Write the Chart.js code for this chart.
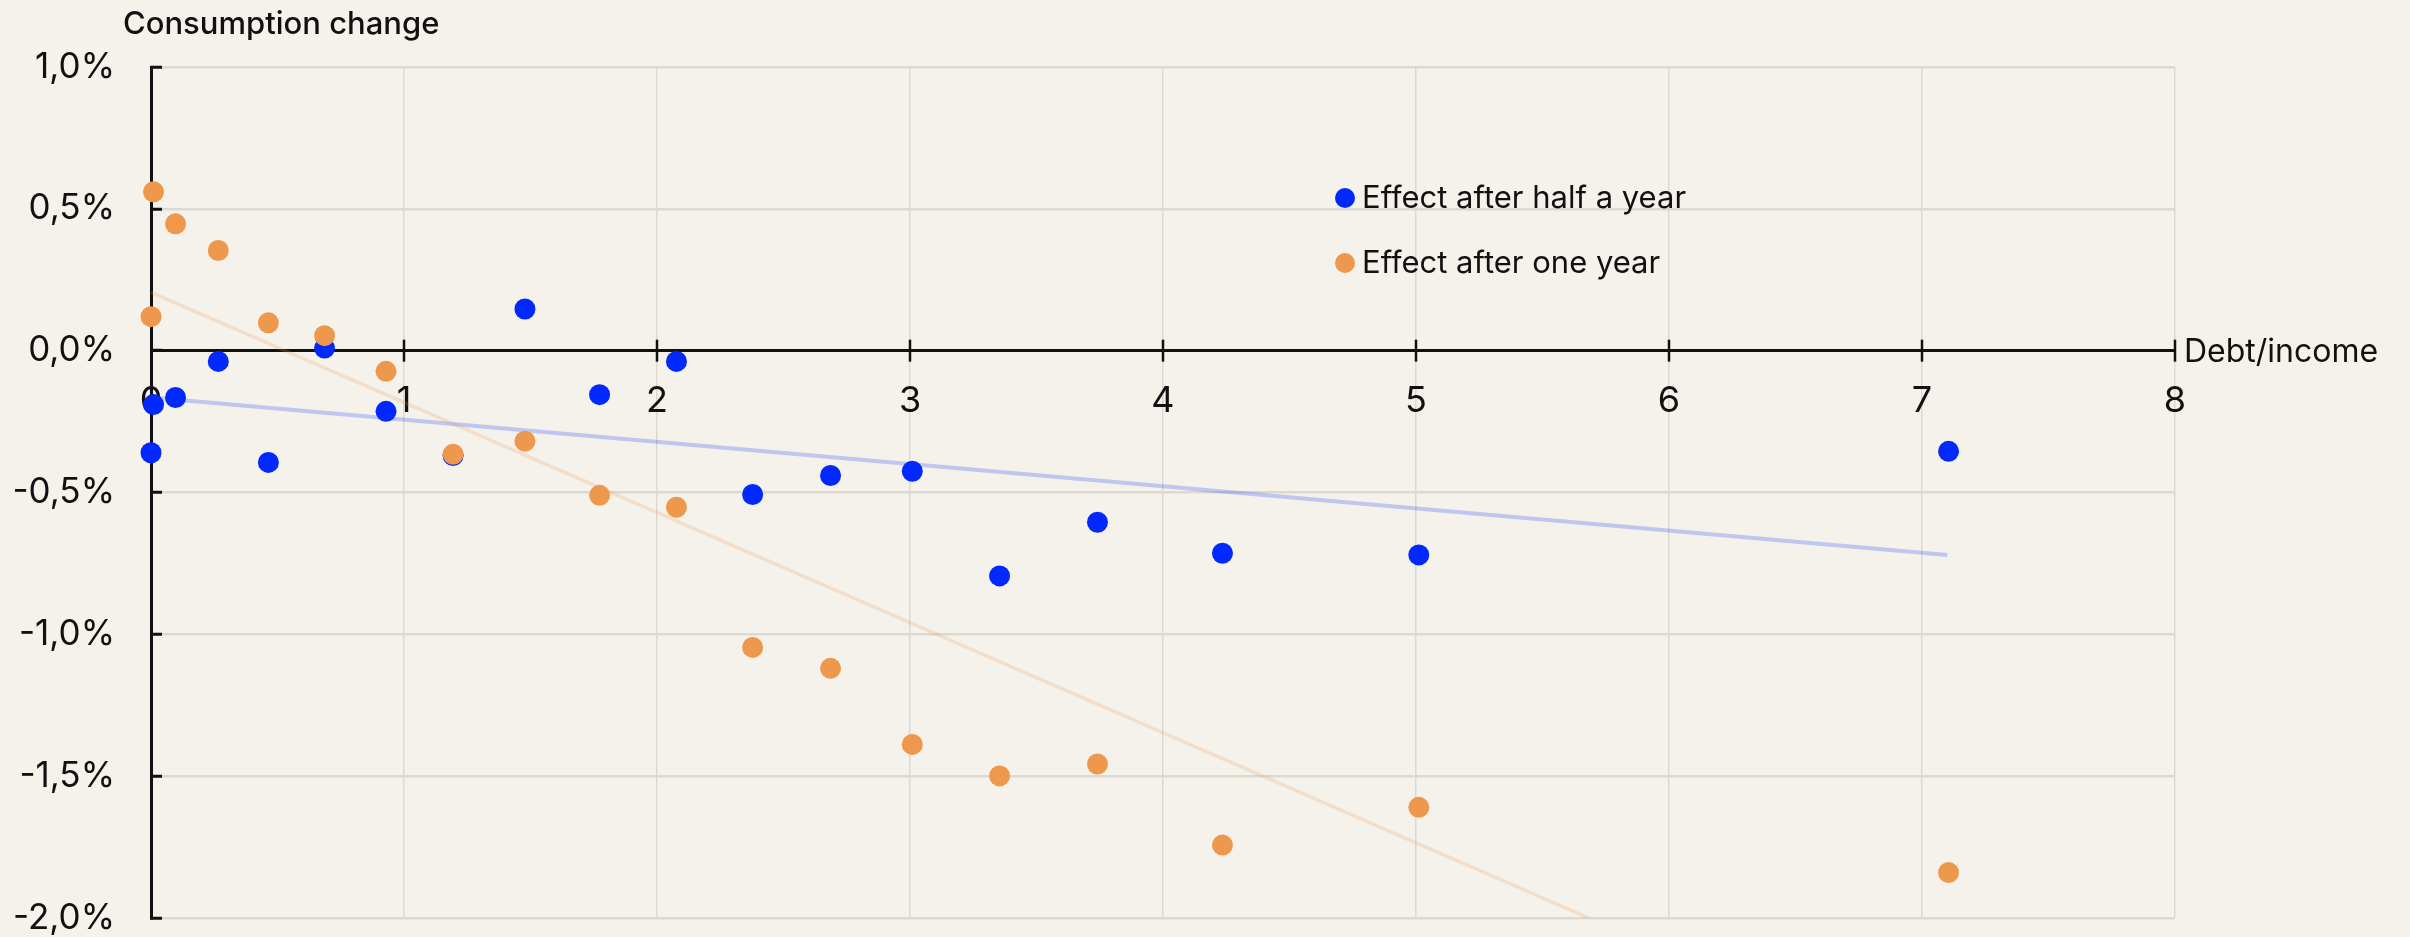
<!DOCTYPE html>
<html><head><meta charset="utf-8">
<script src="https://cdn.jsdelivr.net/npm/chart.js@4.4.1/dist/chart.umd.min.js"></script>
<style>
html,body{margin:0;padding:0;background:#f5f2ec;}
canvas{display:block;}
</style></head><body>
<canvas id="c" width="2410" height="937"></canvas>
<script>
// ---- data ----
const debtIncome     = [0.0, 0.01, 0.097, 0.266, 0.464, 0.686, 0.929, 1.194, 1.478, 1.773, 2.077, 2.378, 2.686, 3.009, 3.354, 3.741, 4.235, 5.011, 7.105];
const effectHalfYear = [-0.36, -0.19, -0.165, -0.038, -0.394, 0.009, -0.214, -0.37, 0.147, -0.155, -0.038, -0.507, -0.44, -0.425, -0.794, -0.605, -0.714, -0.72, -0.355];
const effectOneYear  = [0.12, 0.56, 0.447, 0.353, 0.098, 0.053, -0.073, -0.365, -0.319, -0.51, -0.552, -1.046, -1.12, -1.388, -1.499, -1.457, -1.743, -1.61, -1.84];
const trendX         = [0, 7.1];
const trendHalfYear  = [-0.165, -0.72];
const trendOneYear   = [0.206, -2.55];
const seriesNames    = ['Effect after half a year', 'Effect after one year'];
const xTickLabels    = ['0','1','2','3','4','5','6','7','8'];
const yTickLabels    = ['-2,0%','-1,5%','-1,0%','-0,5%','0,0%','0,5%','1,0%'];
const yAxisTitle     = 'Consumption change';
const xAxisTitle     = 'Debt/income';

const FONT = 'Inter, "Noto Sans", sans-serif';
const INK = '#111111';
const BLUE = '#0028ff';
const ORANGE = '#ee984e';
const GRID = '#dcd9d3';

const pts = (xs, ys) => xs.map((x, i) => ({x: x, y: ys[i]}));

const overlay = {
  id: 'overlay',
  afterDraw(chart) {
    const ctx = chart.ctx;
    const xs = chart.scales.x, ys = chart.scales.y;
    const y0 = ys.getPixelForValue(0);
    ctx.save();
    // crossing tick marks on the x axis
    ctx.strokeStyle = INK;
    ctx.lineWidth = 2.5;
    xs.ticks.forEach(t => {
      if (t.value === 0) return;
      const px = Math.round(xs.getPixelForValue(t.value));
      ctx.beginPath();
      ctx.moveTo(px, y0 - 11);
      ctx.lineTo(px, y0 + 11);
      ctx.stroke();
    });
    // axis titles
    ctx.fillStyle = INK;
    ctx.font = '500 31px ' + FONT;
    ctx.textAlign = 'left';
    ctx.textBaseline = 'alphabetic';
    ctx.fillText(yAxisTitle, 123, 34);
    ctx.font = '32px ' + FONT;
    ctx.textBaseline = 'middle';
    ctx.fillText(xAxisTitle, xs.right + 9, y0 + 2);
    // legend
    const items = [{name: seriesNames[0], color: BLUE}, {name: seriesNames[1], color: ORANGE}];
    items.forEach((it, i) => {
      const cy = 198 + i * 65;
      ctx.fillStyle = it.color;
      ctx.beginPath();
      ctx.arc(1345, cy, 10, 0, Math.PI * 2);
      ctx.fill();
      ctx.fillStyle = INK;
      ctx.font = '31px ' + FONT;
      ctx.textBaseline = 'middle';
      ctx.fillText(it.name, 1362, cy + 1);
    });
    ctx.restore();
  }
};

Chart.defaults.font.family = FONT;
new Chart(document.getElementById('c'), {
  type: 'scatter',
  data: {
    datasets: [
      {label: seriesNames[1], data: pts(debtIncome, effectOneYear), backgroundColor: ORANGE, borderWidth: 0, pointRadius: 10.5, order: 0, clip: false},
      {label: seriesNames[0], data: pts(debtIncome, effectHalfYear), backgroundColor: BLUE, borderWidth: 0, pointRadius: 10.5, order: 1, clip: false},
      {label: 'trend one year', data: pts(trendX, trendOneYear), showLine: true, pointRadius: 0, borderColor: 'rgba(238,152,78,0.22)', borderWidth: 3.5, order: 2, clip: 0},
      {label: 'trend half year', data: pts(trendX, trendHalfYear), showLine: true, pointRadius: 0, borderColor: 'rgba(0,40,255,0.22)', borderWidth: 4, order: 3, clip: 0}
    ]
  },
  options: {
    responsive: false,
    animation: false,
    events: [],
    layout: {padding: {left: 0, right: 235, top: 67, bottom: 19}},
    plugins: {legend: {display: false}, tooltip: {enabled: false}},
    scales: {
      x: {
        type: 'linear', position: {y: 0}, min: 0, max: 8,
        ticks: {stepSize: 1, color: INK, font: {size: 36}, padding: 19,
                callback: (v, i) => xTickLabels[i]},
        grid: {color: GRID, lineWidth: 1.5, drawTicks: true, tickLength: 10, tickColor: 'rgba(0,0,0,0)'},
        border: {color: INK, width: 3},
        afterFit: s => { s.paddingLeft = 0; s.paddingRight = 0; }
      },
      y: {
        type: 'linear', position: 'left', min: -2, max: 1,
        ticks: {stepSize: 0.5, color: INK, font: {size: 35}, padding: 47,
                callback: (v, i) => yTickLabels[i]},
        grid: {color: GRID, lineWidth: 2.5, drawTicks: true, tickLength: -11, tickColor: INK, tickWidth: 3},
        border: {color: INK, width: 3},
        afterFit: s => { s.width = 151; s.paddingTop = 0; s.paddingBottom = 0; }
      }
    }
  },
  plugins: [overlay]
});
</script>
</body></html>
